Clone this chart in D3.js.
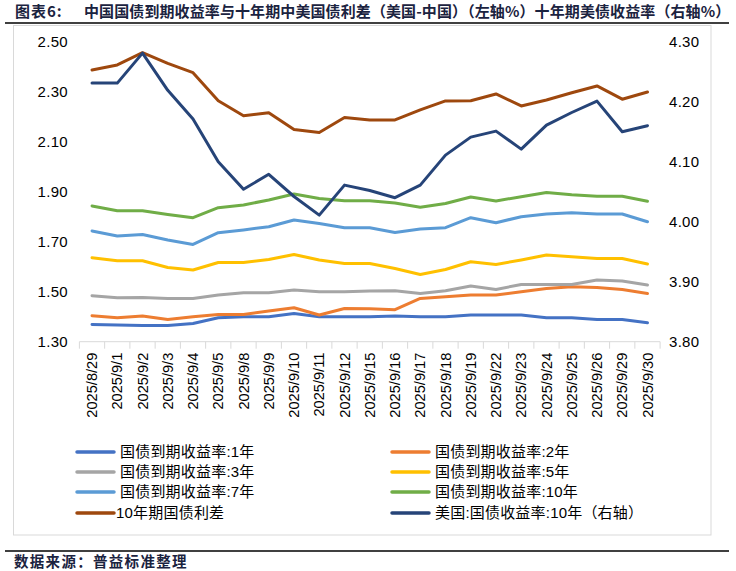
<!DOCTYPE html>
<html><head><meta charset="utf-8">
<script src="https://cdn.jsdelivr.net/npm/d3@7"></script>
<style>
html,body{margin:0;padding:0;background:#fff;}
svg{display:block;}
</style></head>
<body>
<svg id="chart" width="736" height="571"></svg>
<script>
const dates = ["2025/8/29","2025/9/1","2025/9/2","2025/9/3","2025/9/4","2025/9/5","2025/9/8","2025/9/9","2025/9/10","2025/9/11","2025/9/12","2025/9/15","2025/9/16","2025/9/17","2025/9/18","2025/9/19","2025/9/22","2025/9/23","2025/9/24","2025/9/25","2025/9/26","2025/9/29","2025/9/30"];
const cn1y  = [1.369,1.367,1.365,1.365,1.373,1.396,1.400,1.400,1.413,1.400,1.400,1.400,1.403,1.400,1.400,1.407,1.407,1.407,1.396,1.396,1.389,1.389,1.376];
const cn2y  = [1.404,1.396,1.403,1.389,1.400,1.409,1.409,1.423,1.436,1.407,1.433,1.432,1.428,1.473,1.480,1.487,1.487,1.500,1.513,1.520,1.517,1.509,1.493];
const cn3y  = [1.484,1.476,1.477,1.473,1.473,1.487,1.496,1.496,1.507,1.500,1.500,1.503,1.504,1.493,1.504,1.523,1.509,1.529,1.529,1.529,1.547,1.543,1.527];
const cn5y  = [1.636,1.624,1.624,1.597,1.587,1.617,1.617,1.629,1.649,1.627,1.613,1.613,1.593,1.569,1.589,1.620,1.609,1.627,1.647,1.640,1.633,1.633,1.611];
const cn7y  = [1.743,1.723,1.729,1.707,1.689,1.736,1.747,1.760,1.787,1.773,1.756,1.756,1.737,1.751,1.756,1.796,1.776,1.800,1.811,1.816,1.811,1.811,1.780];
const cn10y = [1.843,1.824,1.824,1.809,1.796,1.836,1.847,1.867,1.891,1.873,1.864,1.864,1.855,1.838,1.853,1.879,1.863,1.880,1.897,1.888,1.882,1.882,1.862];
const spread = [2.387,2.407,2.456,2.413,2.376,2.264,2.204,2.216,2.149,2.137,2.197,2.187,2.187,2.227,2.263,2.264,2.291,2.243,2.267,2.296,2.323,2.270,2.299];
const us10y = [4.231,4.231,4.281,4.219,4.171,4.100,4.054,4.079,4.042,4.011,4.061,4.052,4.040,4.061,4.111,4.141,4.151,4.121,4.161,4.182,4.201,4.150,4.160];

const leftTicks = [1.30,1.50,1.70,1.90,2.10,2.30,2.50];
const rightTicks = [3.80,3.90,4.00,4.10,4.20,4.30];

const seriesNames = ["国债到期收益率:1年","国债到期收益率:2年","国债到期收益率:3年","国债到期收益率:5年","国债到期收益率:7年","国债到期收益率:10年","10年期国债利差","美国:国债收益率:10年（右轴）"];
const seriesColors = ["#4472C4","#ED7D31","#A5A5A5","#FFC000","#5B9BD5","#70AD47","#9E480E","#264478"];
const seriesValues = [cn1y,cn2y,cn3y,cn5y,cn7y,cn10y,spread,us10y];
const seriesAxis = ["L","L","L","L","L","L","L","R"];

const titleLabel = "图表6:";
const titleText = "中国国债到期收益率与十年期中美国债利差（美国-中国）（左轴%）十年期美债收益率（右轴%）";
const sourceText = "数据来源：普益标准整理";

const svg = d3.select("#chart");
const cjk = "'Liberation Sans', 'Noto Sans CJK SC', sans-serif";

// title
svg.append("text").attr("x",15).attr("y",17)
  .attr("font-family","'Noto Sans CJK SC', sans-serif").attr("font-weight","bold")
  .attr("font-size",15).attr("fill","#1b2340").attr("letter-spacing","1").text(titleLabel);
svg.append("text").attr("x",84).attr("y",17)
  .attr("font-family","'Noto Sans CJK SC', sans-serif").attr("font-weight","bold")
  .attr("font-size",15).attr("fill","#1b2340").attr("letter-spacing","0.1").text(titleText);
svg.append("line").attr("x1",5).attr("x2",729).attr("y1",23).attr("y2",23)
  .attr("stroke","#000").attr("stroke-width",1.5);
// frame
svg.append("rect").attr("x",13.5).attr("y",25.5).attr("width",697.5).attr("height",509.5)
  .attr("fill","none").attr("stroke","#d9d9d9").attr("stroke-width",1);
// bottom rule & source
svg.append("line").attr("x1",5).attr("x2",729).attr("y1",551).attr("y2",551)
  .attr("stroke","#000").attr("stroke-width",1.5);
svg.append("text").attr("x",14).attr("y",567)
  .attr("font-family","'Noto Sans CJK SC', sans-serif").attr("font-weight","bold")
  .attr("font-size",14.5).attr("fill","#1b2340").attr("letter-spacing","1.3").text(sourceText);

const x = d3.scaleBand().domain(dates).range([79.4,660.1]).padding(0);
const yL = d3.scaleLinear().domain([1.3,2.5]).range([341.7,41.7]);
const yR = d3.scaleLinear().domain([3.8,4.3]).range([341.7,41.7]);

// left axis labels
const gL = svg.append("g").attr("transform","translate(68,0)")
  .call(d3.axisLeft(yL).tickValues(leftTicks).tickFormat(d3.format(".2f")).tickSize(0).tickPadding(0));
gL.select(".domain").remove();
gL.selectAll("text").attr("font-family","'Liberation Sans', Arial, sans-serif").attr("font-size",15)
  .attr("fill","#000").attr("letter-spacing","0.3");

const gR = svg.append("g").attr("transform","translate(669,0)")
  .call(d3.axisRight(yR).tickValues(rightTicks).tickFormat(d3.format(".2f")).tickSize(0).tickPadding(0));
gR.select(".domain").remove();
gR.selectAll("text").attr("font-family","'Liberation Sans', Arial, sans-serif").attr("font-size",15)
  .attr("fill","#000").attr("letter-spacing","0.3");

// x axis
const gX = svg.append("g").attr("transform","translate(0,341.7)");
gX.append("line").attr("x1",x.range()[0]).attr("x2",x.range()[1]).attr("y1",0).attr("y2",0)
  .attr("stroke","#d9d9d9").attr("stroke-width",1);
const bounds = dates.map(d=>x(d)).concat([x.range()[1]]);
gX.selectAll("line.tk").data(bounds).enter().append("line").attr("class","tk")
  .attr("x1",d=>d).attr("x2",d=>d).attr("y1",0).attr("y2",7)
  .attr("stroke","#d9d9d9").attr("stroke-width",1);
gX.selectAll("text.lbl").data(dates).enter().append("text").attr("class","lbl")
  .attr("transform",d=>`translate(${x(d)+x.bandwidth()/2},11) rotate(-90)`)
  .attr("text-anchor","end").attr("dy","0.35em")
  .attr("font-family","'Liberation Sans', Arial, sans-serif").attr("font-size",14.6)
  .attr("fill","#000").text(d=>d);

// lines
seriesValues.forEach((vals,i)=>{
  const ys = seriesAxis[i]==="L" ? yL : yR;
  const line = d3.line().x((d,j)=>x(dates[j])+x.bandwidth()/2).y(d=>ys(d));
  svg.append("path").datum(vals).attr("d",line).attr("fill","none")
    .attr("stroke",seriesColors[i]).attr("stroke-width",3)
    .attr("stroke-linejoin","round").attr("stroke-linecap","round");
});

// legend
const order = [0,1,2,3,4,5,6,7];
const rowsY = [452,472,492,513];
order.forEach((si,k)=>{
  const col = k%2, row = Math.floor(k/2);
  const lx = col===0 ? 77 : 392;
  const g = svg.append("g").attr("transform",`translate(${lx},${rowsY[row]})`);
  g.append("line").attr("x1",0).attr("x2",37).attr("y1",0).attr("y2",0)
    .attr("stroke",seriesColors[si]).attr("stroke-width",3.5).attr("stroke-linecap","round");
  g.append("text").attr("x", si===6 ? 39 : 43).attr("y",0).attr("dy","0.35em")
    .attr("font-family",cjk).attr("font-size",15).attr("fill","#000").attr("letter-spacing","0.2").text(seriesNames[si]);
});
</script>
</body></html>
